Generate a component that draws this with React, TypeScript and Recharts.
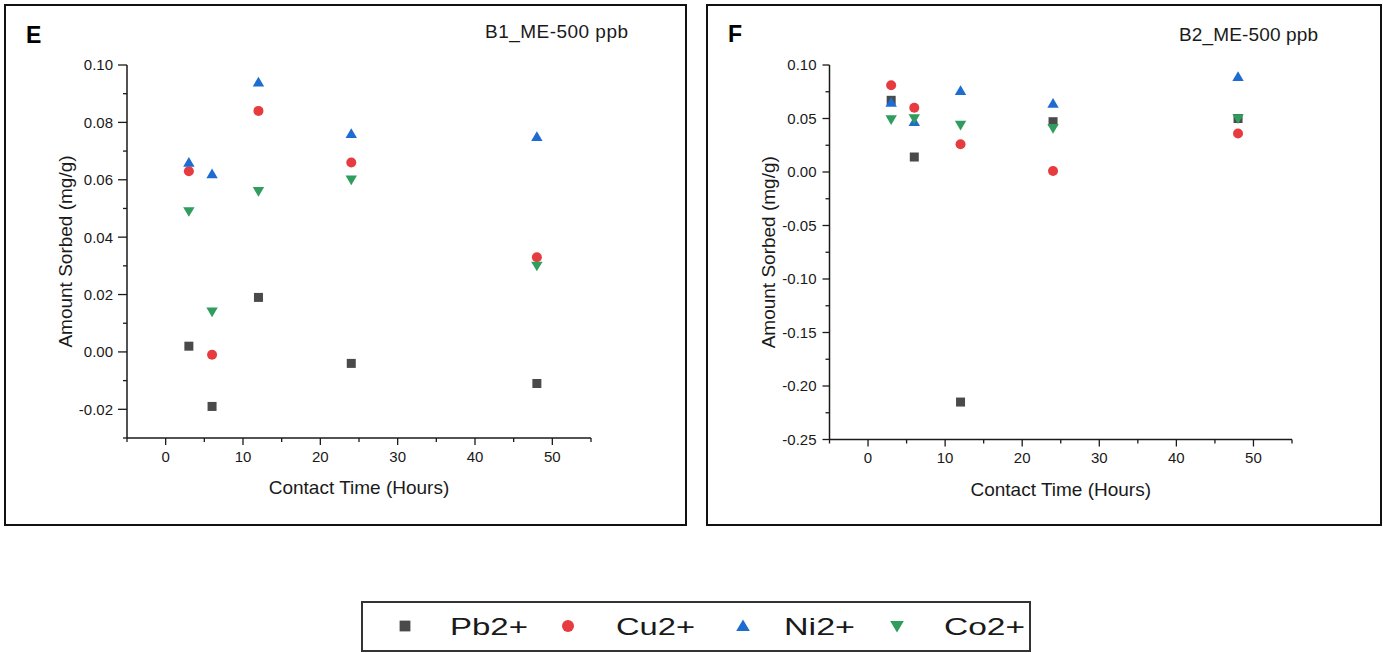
import React from "react";
import { ScatterChart, Scatter, XAxis, YAxis } from "recharts";

// contact times (hours)
const hours = [3, 6, 12, 24, 48];

// panel E : B1_ME-500 ppb
const pbE = [0.002, -0.019, 0.019, -0.004, -0.011];
const cuE = [0.063, -0.001, 0.084, 0.066, 0.033];
const niE = [0.066, 0.062, 0.094, 0.076, 0.075];
const coE = [0.049, 0.014, 0.056, 0.06, 0.03];

// panel F : B2_ME-500 ppb
const pbF = [0.067, 0.014, -0.215, 0.047, 0.05];
const cuF = [0.081, 0.06, 0.026, 0.001, 0.036];
const niF = [0.065, 0.047, 0.076, 0.064, 0.089];
const coF = [0.049, 0.05, 0.044, 0.041, 0.05];

const xTicks = [-5, 0, 5, 10, 15, 20, 25, 30, 35, 40, 45, 50, 55];
const xLabels = [0, 10, 20, 30, 40, 50];

const yTicksE = [-0.03, -0.02, -0.01, 0, 0.01, 0.02, 0.03, 0.04, 0.05, 0.06, 0.07, 0.08, 0.09, 0.1];
const yLabelsE = [-0.02, 0, 0.02, 0.04, 0.06, 0.08, 0.1];

const yTicksF = [-0.25, -0.225, -0.2, -0.175, -0.15, -0.125, -0.1, -0.075, -0.05, -0.025, 0, 0.025, 0.05, 0.075, 0.1];
const yLabelsF = [-0.25, -0.2, -0.15, -0.1, -0.05, 0, 0.05, 0.1];

const ions = ["Pb2+", "Cu2+", "Ni2+", "Co2+"];
const colors = ["#4a4a4a", "#e63b3f", "#1f6cd0", "#2f9d5d"];

const FONT = "'Liberation Sans', Arial, sans-serif";
const INK = "#1a1a1a";

type Pt = { cx?: number; cy?: number };

function marker(kind: number, color: string, s = 1) {
  return (p: Pt) => {
    const cx = p.cx ?? 0;
    const cy = p.cy ?? 0;
    if (kind === 0) {
      const h = 4.5 * s;
      return <rect x={cx - h} y={cy - h} width={2 * h} height={2 * h} fill={color} />;
    }
    if (kind === 1) return <circle cx={cx} cy={cy} r={5 * s} fill={color} />;
    if (kind === 2) {
      const w = 5.7 * s;
      return (
        <polygon
          points={`${cx},${cy - 5.5 * s} ${cx - w},${cy + 4.2 * s} ${cx + w},${cy + 4.2 * s}`}
          fill={color}
        />
      );
    }
    const w = 5.7 * s;
    return (
      <polygon
        points={`${cx},${cy + 5.5 * s} ${cx - w},${cy - 4.2 * s} ${cx + w},${cy - 4.2 * s}`}
        fill={color}
      />
    );
  };
}

const isIn = (list: number[], v: number) => list.some((l) => Math.abs(l - v) < 1e-9);

function YTick(props: any) {
  const { x, y, payload, labels, gap, major, minor } = props;
  const ax = x + gap;
  const big = isIn(labels, payload.value);
  return (
    <g>
      <line x1={ax - (big ? major : minor)} x2={ax} y1={y} y2={y} stroke={INK} strokeWidth={1.3} />
      {big && (
        <text x={x} y={y} dy="0.36em" textAnchor="end" fontSize={15} fontFamily={FONT} fill={INK}>
          {payload.value.toFixed(2)}
        </text>
      )}
    </g>
  );
}

function XTick(props: any) {
  const { x, y, payload, gap } = props;
  const ay = y - gap;
  const big = isIn(xLabels, payload.value);
  return (
    <g>
      <line x1={x} x2={x} y1={ay} y2={ay + (big ? 7 : 4)} stroke={INK} strokeWidth={1.3} />
      {big && (
        <text x={x} y={y} dy="0.72em" textAnchor="middle" fontSize={15} fontFamily={FONT} fill={INK}>
          {payload.value}
        </text>
      )}
    </g>
  );
}

type PanelProps = {
  left: number;
  width: number;
  margin: { top: number; right: number; bottom: number; left: number };
  yDomain: [number, number];
  yTicks: number[];
  yLabels: number[];
  yGap: number;
  yMajor: number;
  values: number[][];
};

function Panel({ left, width, margin, yDomain, yTicks, yLabels, yGap, yMajor, values }: PanelProps) {
  return (
    <div style={{ position: "absolute", left, top: 0 }}>
      <ScatterChart width={width} height={530} margin={margin}>
        <XAxis
          type="number"
          dataKey="x"
          domain={[-5, 55]}
          ticks={xTicks}
          allowDataOverflow
          height={30}
          tickSize={0}
          tickMargin={13}
          axisLine={{ stroke: INK, strokeWidth: 1.5 }}
          tickLine={false}
          tick={(p: any) => <XTick {...p} gap={13} />}
          label={{
            content: (p: any) => {
              const vb = p.viewBox;
              return (
                <text
                  x={vb.x + vb.width / 2}
                  y={vb.y + 56}
                  textAnchor="middle"
                  fontSize={19}
                  fontFamily={FONT}
                  fill={INK}
                >
                  Contact Time (Hours)
                </text>
              );
            },
          }}
        />
        <YAxis
          type="number"
          dataKey="y"
          domain={yDomain}
          ticks={yTicks}
          allowDataOverflow
          width={60}
          tickSize={0}
          tickMargin={yGap}
          axisLine={{ stroke: INK, strokeWidth: 1.5 }}
          tickLine={false}
          tick={(p: any) => <YTick {...p} labels={yLabels} gap={yGap} major={yMajor} minor={4} />}
          label={{
            content: (p: any) => {
              const vb = p.viewBox;
              const cx = vb.x + vb.width - 55;
              const cy = vb.y + vb.height / 2;
              return (
                <text
                  x={cx}
                  y={cy}
                  transform={`rotate(-90 ${cx} ${cy})`}
                  textAnchor="middle"
                  fontSize={19}
                  fontFamily={FONT}
                  fill={INK}
                >
                  Amount Sorbed (mg/g)
                </text>
              );
            },
          }}
        />
        {values.map((vals, k) => (
          <Scatter
            key={ions[k]}
            name={ions[k]}
            data={hours.map((h, i) => ({ x: h, y: vals[i] }))}
            fill={colors[k]}
            shape={marker(k, colors[k])}
            isAnimationActive={false}
          />
        ))}
      </ScatterChart>
    </div>
  );
}

const legendX = [405, 568, 743, 897];
const legendTextX = [450, 616, 784, 944];
const legendTextW = [78, 79, 71, 81];

export default function App() {
  return (
    <div
      style={{
        position: "fixed",
        left: 0,
        top: 0,
        width: 1383,
        height: 653,
        background: "#fff",
        overflow: "hidden",
      }}
    >
      <div
        style={{
          position: "absolute",
          left: 4,
          top: 4,
          width: 683,
          height: 522,
          border: "2px solid #111",
          boxSizing: "border-box",
        }}
      />
      <div
        style={{
          position: "absolute",
          left: 706,
          top: 4,
          width: 676,
          height: 522,
          border: "2px solid #111",
          boxSizing: "border-box",
        }}
      />

      <Panel
        left={0}
        width={690}
        margin={{ top: 65, right: 99, bottom: 62, left: 67 }}
        yDomain={[-0.03, 0.1]}
        yTicks={yTicksE}
        yLabels={yLabelsE}
        yGap={14}
        yMajor={9}
        values={[pbE, cuE, niE, coE]}
      />
      <Panel
        left={700}
        width={683}
        margin={{ top: 65, right: 91, bottom: 60.5, left: 69.5 }}
        yDomain={[-0.25, 0.1]}
        yTicks={yTicksF}
        yLabels={yLabelsF}
        yGap={13}
        yMajor={7}
        values={[pbF, cuF, niF, coF]}
      />

      <svg
        width={1383}
        height={653}
        style={{ position: "absolute", left: 0, top: 0, pointerEvents: "none" }}
      >
        <text x={26} y={43} fontSize={23} fontWeight="bold" fontFamily={FONT} fill="#000">
          E
        </text>
        <text x={485} y={38} fontSize={19} fontFamily={FONT} fill={INK} textLength={143}>
          B1_ME-500 ppb
        </text>
        <text x={728} y={42} fontSize={23} fontWeight="bold" fontFamily={FONT} fill="#000">
          F
        </text>
        <text x={1179} y={41} fontSize={19} fontFamily={FONT} fill={INK} textLength={139}>
          B2_ME-500 ppb
        </text>

        <rect x={362} y={602} width={668} height={49} fill="#fff" stroke="#333" strokeWidth={2} />
        {ions.map((name, k) => (
          <g key={name}>
            {marker(k, colors[k], 1.2)({ cx: legendX[k], cy: 626 })}
            <text
              x={legendTextX[k]}
              y={635}
              fontSize={24}
              fontFamily={FONT}
              fill={INK}
              textLength={legendTextW[k]}
              lengthAdjust="spacingAndGlyphs"
            >
              {name}
            </text>
          </g>
        ))}
      </svg>
    </div>
  );
}
